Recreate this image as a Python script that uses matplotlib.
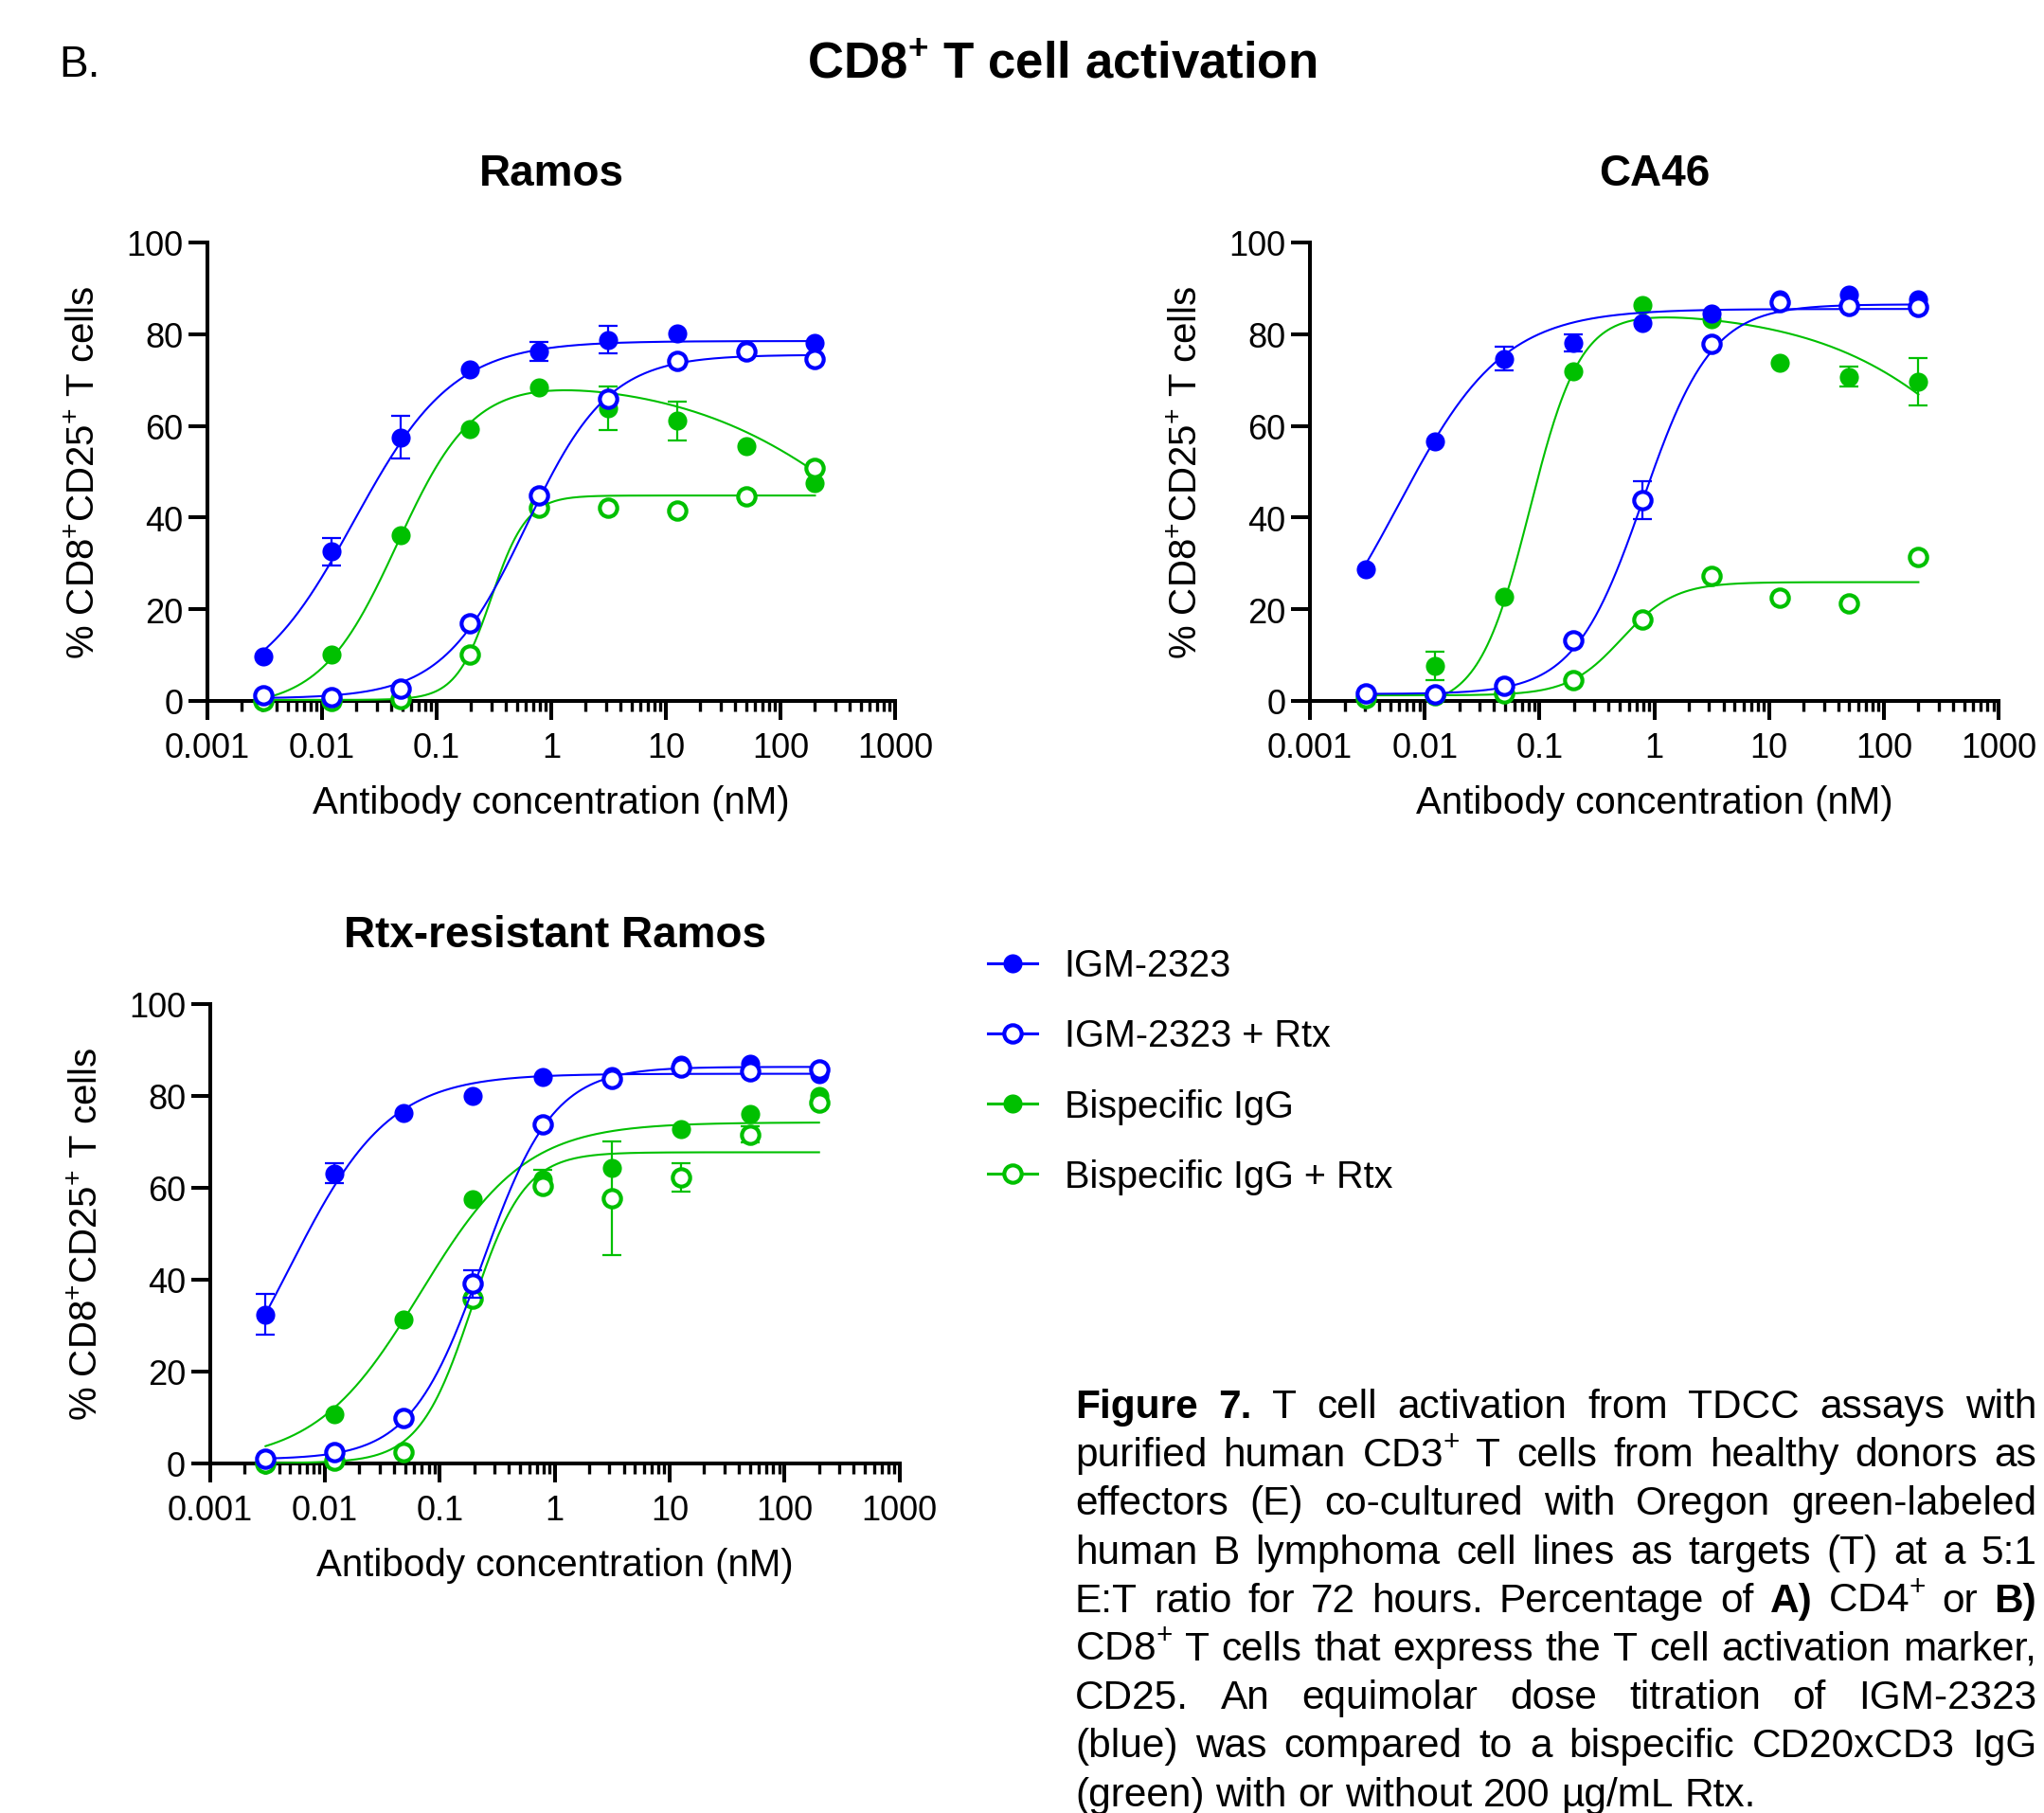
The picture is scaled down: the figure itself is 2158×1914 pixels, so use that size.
import matplotlib
matplotlib.use('Agg')
import matplotlib.pyplot as plt
from matplotlib.lines import Line2D
from matplotlib.ticker import LogLocator, NullFormatter, FixedLocator
import numpy as np

plt.rcParams['font.family'] = ['Liberation Sans', 'DejaVu Sans']
plt.rcParams['mathtext.fontset'] = 'custom'
plt.rcParams['mathtext.rm'] = 'Liberation Sans'
plt.rcParams['mathtext.bf'] = 'Liberation Sans:bold'
plt.rcParams['mathtext.it'] = 'Liberation Sans:italic'

# antibody concentrations (nM), 4-fold dilution from 200 nM
conc = [0.00305, 0.0122, 0.0488, 0.195, 0.781, 3.125, 12.5, 50, 200]

series_names = ['IGM-2323', 'IGM-2323 + Rtx', 'Bispecific IgG', 'Bispecific IgG + Rtx']
series_colors = ['#0000ff', '#0000ff', '#00c000', '#00c000']
series_filled = [True, False, True, False]
series_z = [5, 6, 3, 4]

panel_titles = ['Ramos', 'CA46', 'Rtx-resistant Ramos']

# ---- Ramos
ramos_igm = [9.6, 32.6, 57.5, 72.4, 76.2, 78.8, 80.1, 76.6, 78.1]
ramos_igm_err = [0, 3.0, 4.7, 0, 2.1, 3.0, 0, 0, 0]
ramos_igm_rtx = [1.2, 0.9, 2.7, 17.0, 44.8, 66.0, 74.1, 76.3, 74.5]
ramos_igm_rtx_err = [0, 0, 0, 0, 0, 0, 0, 0, 0]
ramos_bis = [0.4, 10.1, 36.2, 59.3, 68.3, 63.8, 61.1, 55.5, 47.6]
ramos_bis_err = [0, 0, 0, 0, 0, 4.8, 4.2, 0, 0]
ramos_bis_rtx = [0.0, 0.0, 0.4, 10.1, 42.1, 42.1, 41.6, 44.7, 50.8]
ramos_bis_rtx_err = [0, 0, 0, 0, 0, 0, 0, 0, 0]

# ---- CA46
ca46_igm = [28.7, 56.6, 74.6, 78.1, 82.4, 84.5, 87.7, 88.7, 87.5]
ca46_igm_err = [0, 0, 2.6, 1.9, 0, 0, 0, 0, 0]
ca46_igm_rtx = [1.7, 1.5, 3.2, 13.2, 43.8, 77.8, 87.0, 86.2, 86.0]
ca46_igm_rtx_err = [0, 0, 0, 0, 4.2, 0, 0, 0, 0]
ca46_bis = [0.9, 7.6, 22.7, 71.9, 86.3, 83.3, 73.7, 70.7, 69.6]
ca46_bis_err = [0, 3.1, 0, 0, 0, 0, 0, 2.2, 5.2]
ca46_bis_rtx = [0.7, 1.2, 1.7, 4.5, 17.8, 27.2, 22.5, 21.2, 31.4]
ca46_bis_rtx_err = [0, 0, 0, 0, 0, 0, 0, 0, 0]

# ---- Rtx-resistant Ramos
rr_igm = [32.4, 63.1, 76.2, 80.0, 84.0, 84.2, 86.8, 86.9, 84.7]
rr_igm_err = [4.4, 2.2, 0, 0, 0, 0, 0, 0, 0]
rr_igm_rtx = [1.0, 2.3, 9.9, 39.1, 73.8, 83.7, 86.1, 85.4, 85.8]
rr_igm_rtx_err = [0, 0, 0, 3.0, 0, 0, 0, 0, 0]
rr_bis = [0.3, 10.6, 31.2, 57.4, 61.9, 64.2, 72.8, 76.1, 80.0]
rr_bis_err = [0, 0, 0, 0, 2.0, 0, 0, 0, 0]
rr_bis_rtx = [0.0, 0.5, 2.3, 35.9, 60.4, 57.7, 62.2, 71.6, 78.5]
rr_bis_rtx_err = [0, 0, 0, 0, 0, 12.3, 3.1, 1.8, 0]

# fitted curve parameters
# 4PL: (bottom, top, EC50, hill); bell: (plateau1, dip, plateau2, EC50_1, EC50_2, n1, n2)
ramos_fits = [(0, 78.5, 0.019, 1.0), (0.5, 75.5, 0.6, 1.2),
              (-1.5, 71.0, 0, 0.0454, 1134, 1.3, 0.5), (0.2, 44.8, 0.3, 2.8)]
ca46_fits = [(0, 85.5, 0.0059, 0.95), (1.5, 86.5, 0.8, 1.45),
             (-1.5, 85.5, 0, 0.082, 2040, 1.96, 0.55), (1.2, 25.9, 0.52, 1.88)]
rr_fits = [(0, 84.8, 0.0049, 1.0), (0.8, 86.3, 0.234, 1.4),
           (0, 74.2, 0.068, 0.95), (0, 67.7, 0.19, 1.9)]

panel_data = [
    ([ramos_igm, ramos_igm_rtx, ramos_bis, ramos_bis_rtx],
     [ramos_igm_err, ramos_igm_rtx_err, ramos_bis_err, ramos_bis_rtx_err], ramos_fits),
    ([ca46_igm, ca46_igm_rtx, ca46_bis, ca46_bis_rtx],
     [ca46_igm_err, ca46_igm_rtx_err, ca46_bis_err, ca46_bis_rtx_err], ca46_fits),
    ([rr_igm, rr_igm_rtx, rr_bis, rr_bis_rtx],
     [rr_igm_err, rr_igm_rtx_err, rr_bis_err, rr_bis_rtx_err], rr_fits),
]


def fit_curve(x, p):
    if len(p) == 4:
        bottom, top, ec50, hill = p
        return bottom + (top - bottom) / (1 + (ec50 / x) ** hill)
    p1, dip, p2, ec1, ec2, n1, n2 = p
    s1 = (dip - p1) / (1 + (x / ec1) ** n1)
    s2 = (dip - p2) / (1 + (ec2 / x) ** n2)
    return dip - s1 - s2


W, H = 2158, 1915
fig = plt.figure(figsize=(W / 100, H / 100), dpi=100)
fig.patch.set_facecolor('white')

axes_rects = [[0.1015, 0.6131, 0.3364, 0.2527],
              [0.6409, 0.6131, 0.3369, 0.2527],
              [0.1027, 0.1929, 0.3373, 0.2531]]

handles = []
for k, (rect, (ys, errs, fits)) in enumerate(zip(axes_rects, panel_data)):
    ax = fig.add_axes(rect)
    xs = np.logspace(np.log10(conc[0]), np.log10(conc[-1]), 400)
    for i in range(4):
        c = series_colors[i]
        ax.plot(xs, fit_curve(xs, fits[i]), color=c, lw=1.5, zorder=series_z[i])
        e = np.array(errs[i], dtype=float)
        m = e > 0
        if m.any():
            ax.errorbar(np.array(conc)[m], np.array(ys[i])[m], yerr=e[m], fmt='none',
                        ecolor=c, elinewidth=1.6, capsize=7, capthick=1.6,
                        zorder=series_z[i], clip_on=False)
        ms = 14.5 if series_filled[i] else 13.2
        ax.plot(conc, ys[i], ls='none', marker='o', ms=ms,
                mfc=c if series_filled[i] else 'white', mec=c,
                mew=0 if series_filled[i] else 3.0,
                zorder=series_z[i] + 0.5, clip_on=False)
        if k == 0:
            handles.append(Line2D([], [], color=c, lw=2.2, marker='o', ms=ms,
                                  mfc=c if series_filled[i] else 'white', mec=c,
                                  mew=0 if series_filled[i] else 3.0))
    ax.set_xscale('log')
    ax.set_xlim(0.001, 1000)
    ax.set_ylim(0, 100)
    ax.xaxis.set_major_locator(FixedLocator([0.001, 0.01, 0.1, 1, 10, 100, 1000]))
    ax.set_xticklabels(['0.001', '0.01', '0.1', '1', '10', '100', '1000'])
    ax.xaxis.set_minor_locator(LogLocator(base=10, subs=np.arange(2, 10), numticks=20))
    ax.xaxis.set_minor_formatter(NullFormatter())
    ax.set_yticks([0, 20, 40, 60, 80, 100])
    for s in ['top', 'right']:
        ax.spines[s].set_visible(False)
    for s in ['left', 'bottom']:
        ax.spines[s].set_linewidth(2.9)
    ax.tick_params(axis='both', which='major', length=14.4, width=2.9,
                   labelsize=26, direction='out')
    ax.tick_params(axis='x', which='major', pad=9)
    ax.tick_params(axis='y', which='major', pad=4)
    ax.tick_params(axis='x', which='minor', length=8, width=2.4, direction='out')
    ax.set_xlabel('Antibody concentration (nM)', fontsize=29, labelpad=15)
    ax.set_ylabel(r'% CD8$^{+}$CD25$^{+}$ T cells', fontsize=29, labelpad=18)
    ax.set_title(panel_titles[k], fontsize=33, fontweight='bold', pad=44)

# figure titles
fig.text(0.5195, 1 - 68 / H, r'CD8$^{\mathbf{+}}$ T cell activation', fontsize=38,
         fontweight='bold', ha='center', va='center')
fig.text(62 / W, 1 - 69 / H, 'B.', fontsize=33, ha='left', va='center')

# legend
fig.legend(handles, series_names, loc='center left', bbox_to_anchor=(1043 / W, 1 - 1131.5 / H),
           frameon=False, fontsize=28.5, handlelength=1.31, handletextpad=0.73,
           labelspacing=0.91, borderpad=0, borderaxespad=0)

# caption, justified line by line
cap_lines = [
    [('Figure', True), ('7.', True), ('T', False), ('cell', False), ('activation', False),
     ('from', False), ('TDCC', False), ('assays', False), ('with', False)],
    'purified human CD3$^{+}$ T cells from healthy donors as',
    'effectors (E) co-cultured with Oregon green-labeled',
    'human B lymphoma cell lines as targets (T) at a 5:1',
    [('E:T', False), ('ratio', False), ('for', False), ('72', False), ('hours.', False),
     ('Percentage', False), ('of', False), ('A)', True), ('CD4$^{+}$', False), ('or', False),
     ('B)', True)],
    'CD8$^{+}$ T cells that express the T cell activation marker,',
    'CD25.  An equimolar dose titration of IGM-2323',
    '(blue) was compared to a bispecific CD20xCD3 IgG',
    '(green) with or without 200 µg/mL Rtx.',
]
cap_size = 30.5
cap_x0, cap_x1 = 1135, 2150
cap_base0, cap_step = 1497, 51.2
renderer = fig.canvas.get_renderer()
space_px = 0.278 * cap_size * 100 / 72
for li, line in enumerate(cap_lines):
    if isinstance(line, str):
        words = [(w, False) for w in line.split()]
    else:
        words = line
    yb = 1 - (cap_base0 + li * cap_step) / H
    ts, widths = [], []
    for w, b in words:
        t = fig.text(0, yb, w, fontsize=cap_size, fontweight='bold' if b else 'normal',
                     ha='left', va='baseline')
        ts.append(t)
        widths.append(t.get_window_extent(renderer).width)
    last = li == len(cap_lines) - 1
    gap = space_px if last else (cap_x1 - cap_x0 - sum(widths)) / (len(words) - 1)
    x = cap_x0
    for t, wd in zip(ts, widths):
        t.set_x(x / W)
        x += wd + gap

fig.savefig('out.png', dpi=100)
